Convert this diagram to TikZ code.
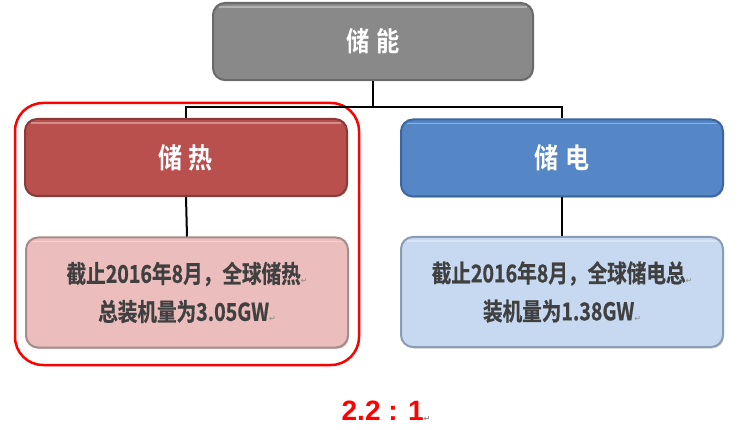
\documentclass[tikz,border=0pt]{standalone}
\usepackage{fontspec}
\usetikzlibrary{shadows}
\setmainfont{Noto Sans CJK SC}[BoldFont={* Bold}, FakeStretch=0.86]
\newfontfamily\infofont{Noto Sans CJK SC Bold}[FakeStretch=0.80, FakeBold=0.6]
\newfontfamily\retfont{DejaVu Sans}
\newfontfamily\ratiofont{Liberation Sans}[BoldFont={* Bold}]
\definecolor{grayfill}{HTML}{898989}
\definecolor{grayline}{HTML}{6A6A6A}
\definecolor{redfill}{HTML}{BA504E}
\definecolor{redline}{HTML}{8A3A38}
\definecolor{bluefill}{HTML}{5586C6}
\definecolor{blueline}{HTML}{3B66A0}
\definecolor{pinkfill}{HTML}{EBBDBC}
\definecolor{pinkline}{HTML}{A88B8B}
\definecolor{lbluefill}{HTML}{C6D9F1}
\definecolor{lblueline}{HTML}{8A9DB4}
\definecolor{txtdark}{HTML}{404040}
\definecolor{retgray}{HTML}{8C8C8C}
\definecolor{framered}{HTML}{FF0000}
\newcommand{\retmark}{{\retfont\fontsize{8}{8}\selectfont\color{retgray}\raisebox{-1pt}{↵}}}
\tikzset{
  box/.style={rectangle, rounded corners=12pt, line width=2pt, minimum width=322pt, inner sep=0pt,
    drop shadow={shadow xshift=1pt, shadow yshift=-1.5pt, opacity=0.35}},
  headbox/.style={box, minimum height=77pt, text=white, font=\bfseries\fontsize{28}{28}\selectfont},
  infobox/.style={box, minimum height=110pt, text=txtdark, align=center, font=\infofont\fontsize{24.5}{38}\selectfont},
  conn/.style={line width=2pt, black},
  hilite/.style={white, opacity=0.35, line width=1.5pt}
}
\begin{document}
\begin{tikzpicture}[x=1pt,y=-1pt]
\useasboundingbox (0,0) rectangle (755,430);
% red frame
\draw[framered, line width=2.5pt, rounded corners=28pt] (15,103) rectangle (359,365);
% boxes
\node[headbox, fill=grayfill, draw=grayline, minimum width=320pt, font=\bfseries\fontsize{27}{27}\selectfont] (top) at (373,41.5) {储\hspace{7pt}能};
\node[headbox, fill=redfill, draw=redline] (heat) at (186,157.5) {储\hspace{6pt}热};
\node[headbox, fill=bluefill, draw=blueline] (elec) at (562,158) {储\hspace{6pt}电};
\node[infobox, fill=pinkfill, draw=pinkline] (heatinfo) at (187,292.5) {截止2016年8月，全球储热\retmark\\总装机量为3.05GW\retmark};
\node[infobox, fill=lbluefill, draw=lblueline] (elecinfo) at (562,292) {截止2016年8月，全球储电总\retmark\\装机量为1.38GW\retmark};
% highlights
\foreach \n in {top,heat,elec,heatinfo,elecinfo}{
  \draw[hilite] ([xshift=7pt,yshift=-5pt]\n.north west) -- ([xshift=-7pt,yshift=-5pt]\n.north east);
}
% connectors
\coordinate (j) at (373,107);
\draw[conn] (top.south) -- (j);
\draw[conn] (heat.north) -- (heat.north |- j) -- (elec.north |- j) -- (elec.north);
\draw[conn] (heat.south) -- (heatinfo.north);
\draw[conn] (elec.south) -- (elecinfo.north);
% ratio
\node[text=framered, font=\ratiofont\bfseries\fontsize{28}{28}\selectfont] (ratio) at (386,411) {2.2 : 1\retmark};
\end{tikzpicture}
\end{document}
